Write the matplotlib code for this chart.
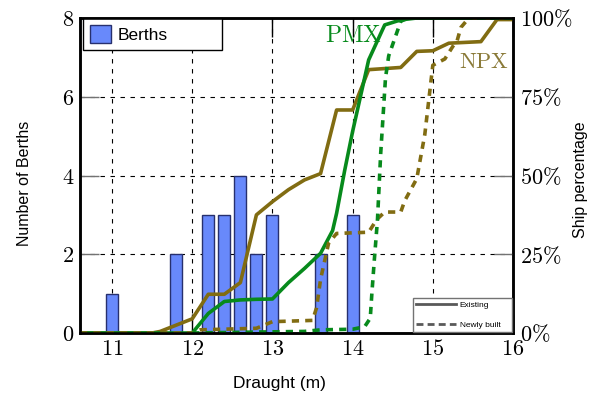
import matplotlib
matplotlib.use("Agg")
import matplotlib.pyplot as plt
from matplotlib.lines import Line2D

plt.rcParams['mathtext.fontset'] = 'cm'
plt.rcParams['font.family'] = ['Liberation Sans', 'DejaVu Sans']

# ---------------- data ----------------
berth_draught = [11.0, 11.8, 12.2, 12.4, 12.6, 12.8, 13.0, 13.6, 14.0]
berth_count = [1, 2, 3, 3, 4, 2, 3, 2, 3]

npx_exist_x = [10.6, 11.5, 11.6, 11.8, 12.0, 12.2, 12.4, 12.6, 12.8, 13.0, 13.2, 13.4, 13.6,
               13.8, 14.0, 14.2, 14.6, 14.8, 15.0, 15.2, 15.6, 15.8, 16.0]
npx_exist_y = [0, 0, 0.5, 2.5, 4.5, 12.3, 12.3, 16, 37.5, 41.7, 45.5, 48.6, 50.6,
               70.8, 70.8, 83.6, 84.3, 89.4, 89.6, 92.0, 92.5, 99.5, 99.5]

pmx_exist_x = [10.6, 12.0, 12.2, 12.4, 12.6, 12.8, 13.0, 13.2, 13.4, 13.6, 13.75, 13.8, 13.9,
               14.0, 14.2, 14.4, 14.6, 14.8, 16.0]
pmx_exist_y = [0, 0, 6.2, 10, 10.5, 10.7, 10.8, 16, 20.5, 25.3, 32.5, 38, 51.5,
               64, 86.7, 97.8, 99.4, 100, 100]

npx_new_x = [10.6, 12.0, 12.1, 12.8, 13.0, 13.5, 13.55, 13.6, 13.7, 13.8, 14.2, 14.3, 14.4,
             14.6, 14.65, 14.8, 14.9, 15.0, 15.15, 15.25, 15.3, 15.35, 15.45, 16.0]
npx_new_y = [0, 0, 1.0, 1.5, 3.6, 4.0, 8, 17, 28.5, 31.6, 32, 36, 38.4,
             38.4, 42, 49, 63, 85, 87, 91, 92.5, 97, 100, 100]

pmx_new_x = [12.0, 12.8, 13.4, 13.6, 14.0, 14.15, 14.22, 14.24, 14.27, 14.31, 14.35, 14.41,
             14.45, 14.56, 14.6, 14.7, 16.0]
pmx_new_y = [0, 0.3, 0.5, 1.0, 1.2, 2.0, 4.7, 12.6, 23, 36, 57, 81,
             88, 96, 99, 100, 100]

x_ticks = [11, 12, 13, 14, 15, 16]
y_ticks = [0, 2, 4, 6, 8]
pct_ticks = [0, 25, 50, 75, 100]

# ---------------- styles ----------------
GREEN = '#078a1c'
OLIVE = '#816c12'
BAR = '#6889fb'
BAR_EDGE = '#27306e'

fig = plt.figure(figsize=(5.98, 3.94), dpi=100)
ax = fig.add_axes([80 / 598, (394 - 333) / 394, 433 / 598, 315 / 394])
ax2 = ax.twinx()

ax.bar(berth_draught, berth_count, width=0.15, color=BAR, edgecolor=BAR_EDGE,
       linewidth=1.0, label='Berths', zorder=2)
ax.set_xlim(10.6, 16.0)
ax.set_ylim(0, 8)
ax.set_axisbelow(True)
ax.grid(True, color='black', linestyle=(0, (4, 5)), linewidth=0.8)

lw = 2.6
ax2.plot(npx_exist_x, npx_exist_y, color=OLIVE, lw=lw, solid_joinstyle='round')
ax2.plot(pmx_exist_x, pmx_exist_y, color=GREEN, lw=lw, solid_joinstyle='round')
ax2.plot(npx_new_x, npx_new_y, color=OLIVE, lw=lw, dashes=(2.0, 1.7))
ax2.plot(pmx_new_x, pmx_new_y, color=GREEN, lw=lw, dashes=(2.0, 1.7))
ax2.set_ylim(0, 100)
ax2.set_xlim(10.6, 16.0)

ax2.text(13.66, 92.5, r'$\mathrm{PMX}$', color=GREEN, fontsize=17, ha='left', va='baseline')
ax2.text(15.325, 84.1, r'$\mathrm{NPX}$', color='#8a7a38', fontsize=16, ha='left', va='baseline')

# ticks
ax.set_xticks(x_ticks)
ax.set_xticklabels([r'$%d$' % v for v in x_ticks])
ax.set_yticks(y_ticks)
ax.set_yticklabels([r'$%d$' % v for v in y_ticks])
ax2.set_yticks(pct_ticks)
ax2.set_yticklabels([r'$%d\%%$' % v for v in pct_ticks])

ax.tick_params(axis='x', which='both', direction='in', length=14, width=1.0, color='black',
               labelsize=16, pad=4, top=True)
ax.tick_params(axis='y', direction='in', length=14, width=1.0, color='0.45', labelsize=16, pad=4)
ax2.tick_params(axis='y', direction='in', length=14, width=1.0, color='0.45', labelsize=16, pad=5)

for a in (ax, ax2):
    for s in a.spines.values():
        s.set_linewidth(1.8)
        s.set_color('black')

ax.set_xlabel('Draught (m)', fontsize=12.5)
ax.xaxis.set_label_coords(0.46, -0.135)
ax.set_ylabel('Number of Berths', fontsize=11.5)
ax.yaxis.set_label_coords(-0.111, 0.475)
ax2.set_ylabel('Ship percentage', fontsize=11.5)
ax2.yaxis.set_label_coords(1.139, 0.486)

# legends
leg1 = ax.legend(loc='upper left', bbox_to_anchor=(0.007, 0.889, 0.321, 0.111), mode='expand',
                 borderaxespad=0, fontsize=12.5, handlelength=1.2, handleheight=1.2,
                 handletextpad=0.4, fancybox=False, framealpha=1, edgecolor='black')
leg1.get_frame().set_linewidth(1.0)

handles = [Line2D([0], [0], color='0.35', lw=2.0),
           Line2D([0], [0], color='0.35', lw=2.0, dashes=(2.5, 1.5))]
leg2 = ax2.legend(handles, ['Existing', 'Newly built'], loc='lower right',
                  bbox_to_anchor=(0.769, 0.003, 0.229, 0.175), mode='expand', borderaxespad=0,
                  fontsize=6, handlelength=4.8, labelspacing=1.4, handletextpad=0.4,
                  fancybox=False, framealpha=1, edgecolor='0.45')
leg2.get_frame().set_linewidth(1.0)

fig.savefig('out.png', dpi=100)
